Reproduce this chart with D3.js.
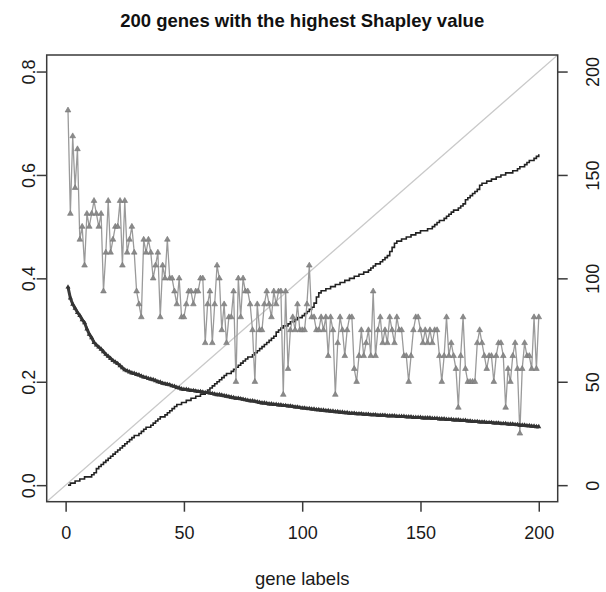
<!DOCTYPE html>
<html><head><meta charset="utf-8">
<script src="https://cdn.jsdelivr.net/npm/d3@7"></script>
<style>body{margin:0;background:#fff}svg{display:block}text{font-family:"Liberation Sans",Arial,sans-serif}</style>
</head><body>
<script>
const title = "200 genes with the highest Shapley value";
const xLabel = "gene labels";
const xTicks = [0, 50, 100, 150, 200];
const leftTicks = [0.0, 0.2, 0.4, 0.6, 0.8];
const rightTicks = [0, 50, 100, 150, 200];

// grey series with triangles (left axis), genes 1..200
const greyValues = [
0.725,0.525,0.675,0.575,0.65,0.475,0.5,0.425,0.525,0.5,
0.525,0.55,0.525,0.5,0.525,0.375,0.45,0.55,0.45,0.475,
0.5,0.5,0.55,0.425,0.55,0.45,0.475,0.5,0.45,0.375,
0.35,0.325,0.475,0.45,0.475,0.45,0.4,0.425,0.45,0.325,
0.425,0.4,0.475,0.4,
0.4,0.375,0.35,0.4,0.325,0.325,0.35,0.375,0.375,0.35,
0.375,0.375,0.4,0.4,0.275,0.35,0.375,0.275,0.35,0.425,
0.4,0.3,0.35,0.275,0.325,0.325,0.375,0.2,0.4,0.325,
0.4,0.375,0.375,0.35,0.3,0.2,0.35,0.3,0.3,0.35,
0.375,0.35,0.325,0.375,0.35,0.375,0.375,0.175,0.375,0.225,
0.3,0.325,0.3,0.35,0.3,0.3,0.3,0.35,0.425,
0.325,0.325,0.3,0.3,0.325,0.3,0.325,0.25,0.325,0.3,
0.175,0.275,0.325,0.3,0.25,0.3,0.325,0.325,0.225,0.2,
0.25,0.3,0.25,0.275,0.3,0.25,0.375,0.25,0.3,0.325,
0.275,0.3,0.275,0.325,0.3,0.275,0.325,0.3,0.3,0.25,
0.25,0.2,0.25,0.3,0.325,0.325,0.3,0.275,0.3,0.275,0.3,
0.275,0.3,0.3,0.25,0.2,0.25,0.325,0.25,0.275,0.25,
0.225,0.15,0.25,0.325,0.225,0.2,0.2,0.2,0.2,0.275,
0.3,0.275,0.25,0.225,0.25,0.25,0.2,0.25,0.275,0.275,
0.25,0.15,0.225,0.2,0.25,0.275,0.225,0.1,0.225,0.275,
0.25,0.25,0.225,0.325,0.225,0.325
];

// sorted Shapley values (left axis)
const shapleyValues = [
0.383,0.362,0.350,0.342,0.334,0.328,0.320,0.314,0.302,0.292,
0.285,0.276,0.271,0.267,0.263,0.258,0.253,0.249,0.245,0.241,
0.238,0.235,0.231,0.227,0.223,0.221,0.219,0.217,0.216,0.214,
0.213,0.211,0.209,0.208,0.206,0.205,0.204,0.202,0.200,0.199,
0.197,0.196,0.195,0.194,0.192,0.191,0.189,0.188,0.186,0.185,
0.185,0.184,0.183,0.183,0.182,0.181,0.181,0.180,0.179,0.179,
0.178,0.177,0.176,0.175,0.175,0.174,0.173,0.172,0.171,0.170,
0.169,0.168,0.168,0.167,0.166,0.165,0.164,0.163,0.163,0.162,
0.161,0.160,0.159,0.159,0.158,0.157,0.157,0.156,0.156,0.155,
0.155,0.154,0.154,0.153,0.153,0.152,0.151,0.151,0.150,0.149,
0.149,0.148,0.148,0.147,0.147,0.146,0.146,0.145,0.145,0.144,
0.144,0.143,0.143,0.142,0.142,0.141,0.141,0.140,0.140,0.139,
0.139,0.139,0.138,0.138,0.138,0.137,0.137,0.137,0.136,0.136,
0.136,0.135,0.135,0.135,0.135,0.134,0.134,0.134,0.134,0.133,
0.133,0.133,0.133,0.132,0.132,0.132,0.131,0.131,0.131,0.131,
0.130,0.130,0.130,0.130,0.129,0.129,0.129,0.128,0.128,0.128,
0.127,0.127,0.127,0.126,0.126,0.126,0.125,0.125,0.125,0.124,
0.124,0.123,0.123,0.123,0.122,0.122,0.122,0.121,0.121,0.121,
0.120,0.120,0.120,0.119,0.119,0.119,0.118,0.118,0.118,0.117,
0.117,0.116,0.116,0.116,0.115,0.115,0.114,0.114,0.113,0.113
];

// cumulative count (right axis)
const countValues = [
0,1,1,2,2,3,3,4,4,4,
5,6,8,9,10,11,12,13,14,15,
16,17,18,19,20,21,22,23,24,24,
25,26,27,28,28,29,30,31,32,33,
33,34,35,36,37,38,39,39,40,40,
41,41,42,42,43,43,44,44,45,46,
47,48,49,50,51,52,53,54,54,55,
56,57,58,59,60,61,62,62,63,64,
65,66,67,68,69,70,71,72,74,75,
76,77,77,78,79,79,80,81,81,82,
83,84,85,86,88,91,93,94,94,95,
95,96,96,97,97,98,98,99,99,100,
100,101,101,102,102,103,103,104,105,106,
107,107,108,109,110,111,113,115,117,118,
118,119,119,120,120,121,121,122,122,123,
123,123,124,124,125,126,127,128,128,129,
130,131,132,133,133,134,135,136,138,139,
140,141,142,143,145,146,146,147,147,148,
148,149,149,150,150,151,151,151,152,152,
153,154,154,155,156,157,157,158,159,160
];
const diagonal = [-8, 208];

const W = 606, H = 592;
const L = 46.7, R = 557.7, T = 55, B = 501.7;
const x = d3.scaleLinear().domain([-8, 208]).range([L, R]);
const yL = d3.scaleLinear().domain([-0.032, 0.832]).range([B, T]);
const yR = d3.scaleLinear().domain([-8, 208]).range([B, T]);

const svg = d3.select("body").append("svg").attr("width", W).attr("height", H);
svg.append("clipPath").attr("id","c").append("rect")
  .attr("x", L).attr("y", T).attr("width", R-L).attr("height", B-T);
const g = svg.append("g").attr("clip-path","url(#c)");

// diagonal
g.append("line")
  .attr("x1", x(diagonal[0])).attr("y1", yR(diagonal[0]))
  .attr("x2", x(diagonal[1])).attr("y2", yR(diagonal[1]))
  .attr("stroke", "#c9c9c9").attr("stroke-width", 1.3);

// count line
const cnt = countValues.map((v,i)=>[i+1,v]);
g.append("path").attr("d", d3.line().curve(d3.curveStepAfter).x(d=>x(d[0])).y(d=>yR(d[1]))(cnt))
  .attr("fill","none").attr("stroke","#222").attr("stroke-width",1.6);

// grey series
const grey = greyValues.map((v,i)=>[i+1,v]);
g.append("path").attr("d", d3.line().x(d=>x(d[0])).y(d=>yL(d[1]))(grey))
  .attr("fill","none").attr("stroke","#9a9a9a").attr("stroke-width",1.3);
const tri = d3.symbol().type(d3.symbolTriangle).size(14);
g.selectAll(".gt").data(grey).join("path")
  .attr("transform", d=>`translate(${x(d[0])},${yL(d[1])})`)
  .attr("d", tri).attr("fill","#8a8a8a").attr("stroke","#777").attr("stroke-width",0.6);

// shapley series
const sh = shapleyValues.map((v,i)=>[i+1,v]);
g.append("path").attr("d", d3.line().x(d=>x(d[0])).y(d=>yL(d[1]))(sh))
  .attr("fill","none").attr("stroke","#3a3a3a").attr("stroke-width",3);
const tri2 = d3.symbol().type(d3.symbolTriangle).size(11);
g.selectAll(".st").data(sh).join("path")
  .attr("transform", d=>`translate(${x(d[0])},${yL(d[1])})`)
  .attr("d", tri2).attr("fill","#333");

// box
svg.append("rect").attr("x",L).attr("y",T).attr("width",R-L).attr("height",B-T)
  .attr("fill","none").attr("stroke","#3a3a3a").attr("stroke-width",1.5);

const axisCol = "#3a3a3a";
const xa = svg.append("g").attr("transform",`translate(0,${B})`)
  .call(d3.axisBottom(x).tickValues(xTicks).tickSize(10).tickFormat(d3.format("d")));
const la = svg.append("g").attr("transform",`translate(${L},0)`)
  .call(d3.axisLeft(yL).tickValues(leftTicks).tickSize(10).tickFormat(d3.format(".1f")));
const ra = svg.append("g").attr("transform",`translate(${R},0)`)
  .call(d3.axisRight(yR).tickValues(rightTicks).tickSize(10).tickFormat(d3.format("d")));
[xa,la,ra].forEach(a=>{
  a.select(".domain").remove();
  a.selectAll(".tick line").attr("stroke",axisCol).attr("stroke-width",1.5);
  a.selectAll(".tick text").attr("fill","#1a1a1a").style("font-size","18px");
});
xa.selectAll(".tick text").attr("dy",null).attr("y",31).attr("dominant-baseline","central");
la.selectAll(".tick text").attr("x",null).attr("dy",null)
  .attr("text-anchor","middle").attr("dominant-baseline","central")
  .attr("transform", "translate(-18,0) rotate(-90)");
ra.selectAll(".tick text").attr("x",null).attr("dy",null)
  .attr("text-anchor","middle").attr("dominant-baseline","central")
  .attr("transform", "translate(35,0) rotate(-90)");

svg.append("text").attr("x",(L+R)/2).attr("y",20).attr("text-anchor","middle")
  .attr("dominant-baseline","central").style("font-weight","bold").style("font-size","18.5px")
  .attr("fill","#111").text(title);
svg.append("text").attr("x",(L+R)/2).attr("y",578).attr("text-anchor","middle")
  .attr("dominant-baseline","central").style("font-size","18.5px").attr("fill","#1a1a1a").text(xLabel);
</script>
</body></html>
